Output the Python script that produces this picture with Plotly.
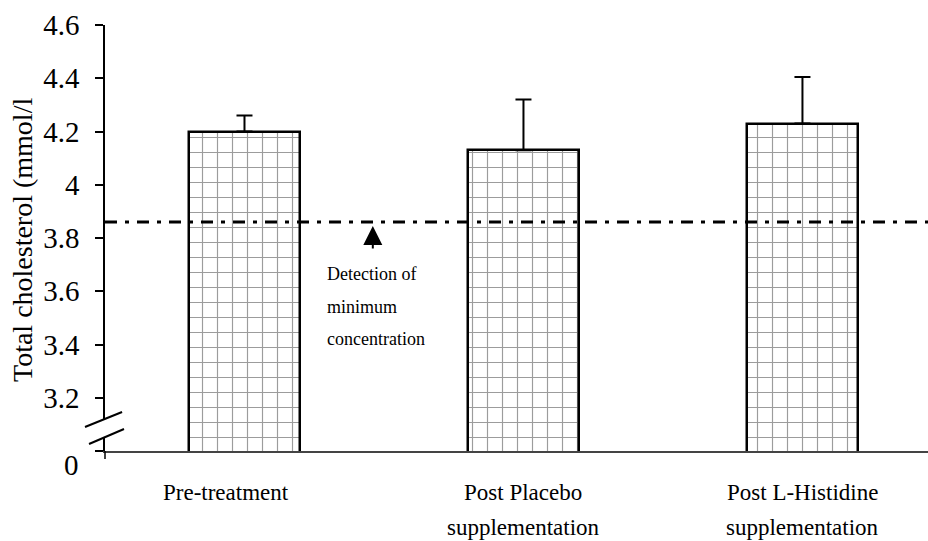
import plotly.graph_objects as go

# ---- data ----
categories = ["Pre-treatment", "Post Placebo", "Post L-Histidine"]
label_line1 = ["Pre-treatment", "Post Placebo", "Post L-Histidine"]
label_line2 = ["", "supplementation", "supplementation"]
means = [4.20, 4.13, 4.23]
sem_upper = [0.06, 0.19, 0.175]
detection_limit = 3.86
y_tick_vals = [3.0, 3.2, 3.4, 3.6, 3.8, 4.0, 4.2, 4.4, 4.6]
y_tick_text = ["", "3.2", "3.4", "3.6", "3.8", "4", "4.2", "4.4", "4.6"]
note_lines = ["Detection of", "minimum", "concentration"]
y_title = "Total cholesterol (mmol/l"

FONT = "Liberation Serif"

fig = go.Figure()
fig.add_trace(go.Bar(
    x=categories, y=means, width=0.4,
    marker=dict(
        color="white",
        line=dict(color="black", width=2.5),
        pattern=dict(shape="+", size=15, solidity=0.15, fgcolor="#3a3a3a", bgcolor="white"),
    ),
    error_y=dict(type="data", symmetric=False, array=sem_upper,
                 arrayminus=[0] * len(sem_upper), color="black", thickness=2, width=8),
    showlegend=False,
))

# detection line
fig.add_shape(type="line", xref="paper", x0=0, x1=1, yref="y",
              y0=detection_limit, y1=detection_limit,
              line=dict(color="black", width=3, dash="12px,8px,4px,8px"), layer="above")

annotations = []
# arrow
annotations.append(dict(x=0.46, y=detection_limit, xref="x", yref="y", text="",
                        showarrow=True, arrowhead=2, arrowsize=1.9, arrowwidth=2,
                        arrowcolor="black", ax=0, ay=28, standoff=4))
for i, t in enumerate(note_lines):
    annotations.append(dict(x=0.29, y=detection_limit, xref="x", yref="y", text=t,
                            showarrow=False, xanchor="left", yanchor="middle",
                            yshift=-52 - 32.5 * i,
                            font=dict(family=FONT, size=18, color="black")))
# category labels
label_xshift = [-18, 0, 0]
for c, l1, l2, dx in zip(categories, label_line1, label_line2, label_xshift):
    annotations.append(dict(x=c, y=0, xref="x", yref="paper", text=l1, showarrow=False,
                            yanchor="middle", yshift=-41, xshift=dx,
                            font=dict(family=FONT, size=23, color="black")))
    if l2:
        annotations.append(dict(x=c, y=0, xref="x", yref="paper", text=l2, showarrow=False,
                                yanchor="middle", yshift=-76, xshift=dx,
                                font=dict(family=FONT, size=23, color="black")))
# "0" label at the broken base
annotations.append(dict(x=0, y=y_tick_vals[0], xref="paper", yref="y", text="0",
                        showarrow=False, xanchor="right", yanchor="middle",
                        xshift=-24, yshift=-14,
                        font=dict(family=FONT, size=29, color="black")))
# y title
annotations.append(dict(x=-0.101, y=0.495, xref="paper", yref="paper", text=y_title,
                        showarrow=False, textangle=-90, xanchor="center", yanchor="middle",
                        font=dict(family=FONT, size=28, color="black")))

# axis break marks
fig.add_shape(type="path", xref="paper", yref="paper",
              path="M -0.0243 0.0563 L 0.0207 0.0915 L 0.0231 0.0516 L -0.0194 0.0164 Z",
              fillcolor="white", line=dict(width=0), layer="above")
fig.add_shape(type="line", xref="paper", yref="paper", x0=-0.0243, y0=0.0563, x1=0.0207, y1=0.0915,
              line=dict(color="black", width=2), layer="above")
fig.add_shape(type="line", xref="paper", yref="paper", x0=-0.0194, y0=0.0164, x1=0.0231, y1=0.0516,
              line=dict(color="black", width=2), layer="above")
# y axis extension below the x axis
fig.add_shape(type="line", xref="paper", yref="paper", x0=0, x1=0, y0=0, y1=-0.019,
              line=dict(color="black", width=1.5), layer="above")

fig.update_layout(
    width=928, height=541,
    margin=dict(l=105, r=0, t=25, b=90),
    paper_bgcolor="white", plot_bgcolor="white",
    annotations=annotations,
    bargap=0,
    xaxis=dict(range=[-0.5, 2.45], showticklabels=False, ticks="", showline=True,
               linecolor="#444", linewidth=1.5, showgrid=False, zeroline=False),
    yaxis=dict(range=[3.0, 4.6], tickvals=y_tick_vals, ticktext=y_tick_text,
               ticks="outside", ticklen=8, tickwidth=1.5, tickcolor="black",
               showline=True, linecolor="black", linewidth=1.5, showgrid=False, zeroline=False,
               ticklabelstandoff=10,
               tickfont=dict(family=FONT, size=29, color="black")),
)

fig.write_html("out.html")
